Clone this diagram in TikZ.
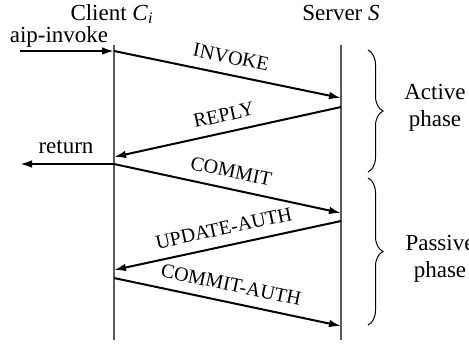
\documentclass[tikz,border=0pt]{standalone}
\usepackage{fontspec}
\setmainfont{Liberation Serif}
\usetikzlibrary{arrows.meta,decorations.pathreplacing}
\begin{document}
\begin{tikzpicture}[x=0.5pt,y=-0.5pt,
  lifeline/.style={line width=0.6pt,draw=black!65},
  msg/.style={line width=1pt,-{Latex[length=6pt,width=3.8pt]}},
  msglabel/.style={midway,sloped,above=1.6pt,font=\fontsize{10}{12}\selectfont},
  txt/.style={font=\fontsize{11.5}{13.5}\selectfont,inner sep=0pt},
  phasebrace/.style={decorate,decoration={brace,amplitude=7.5pt},line width=0.5pt}]
\useasboundingbox (0,0) rectangle (469,345);
\fill[white] (0,0) rectangle (469,345);
% lifelines
\coordinate (c0) at (114,45); \coordinate (c1) at (114,340);
\coordinate (s0) at (341,45); \coordinate (s1) at (341,340);
\draw[lifeline] (c0) -- (c1);
\draw[lifeline] (s0) -- (s1);
\node[txt,anchor=base] (client) at (112,20) {Client \textit{C}\textsubscript{\textit{i}}};
\node[txt,anchor=base] (server) at (341,20) {Server \textit{S}};
% message points
\coordinate (in0) at (20,51);
\coordinate (a1) at (114,51); \coordinate (a2) at (341,98);
\coordinate (b1) at (341,107); \coordinate (b2) at (114,157);
\coordinate (r1) at (114,164); \coordinate (r2) at (20,164);
\coordinate (d1) at (114,164); \coordinate (d2) at (341,213);
\coordinate (e1) at (341,221); \coordinate (e2) at (114,270);
\coordinate (f1) at (114,278); \coordinate (f2) at (341,326);
% external arrows
\draw[msg] (in0) -- (a1);
\node[txt,anchor=base] (aip) at (59,42) {aip-invoke};
\draw[msg] (r1) -- (r2);
\node[txt,anchor=base] (ret) at (66,153) {return};
% messages
\draw[msg] (a1) -- node[msglabel] {INVOKE} (a2);
\draw[msg] (b1) -- node[msglabel] {REPLY} (b2);
\draw[msg] (d1) -- node[msglabel] {COMMIT} (d2);
\draw[msg] (e1) -- node[msglabel] {UPDATE-AUTH} (e2);
\draw[msg] (f1) -- node[msglabel] {COMMIT-AUTH} (f2);
% phases
\coordinate (p1) at (368,50); \coordinate (p2) at (368,172);
\coordinate (q1) at (368,178); \coordinate (q2) at (368,325);
\draw[phasebrace] (p1) -- (p2);
\draw[phasebrace] (q1) -- (q2);
\node[txt,align=center] (active) at (435,108) {Active\\phase};
\node[txt,align=center] (passive) at (440,259) {Passive\\phase};
\end{tikzpicture}
\end{document}
